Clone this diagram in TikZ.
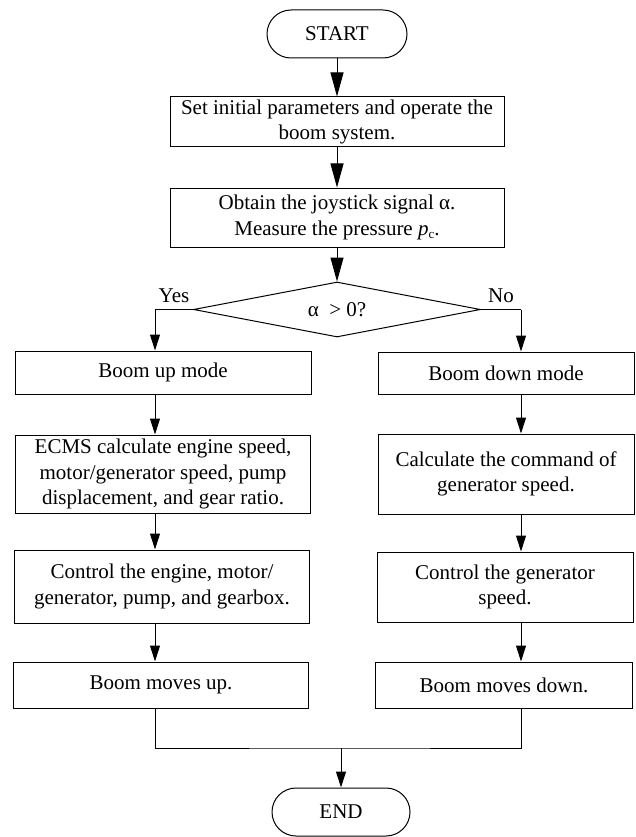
\documentclass[tikz,border=0pt]{standalone}
\usepackage{fontspec}
\setmainfont{Liberation Serif}
\usetikzlibrary{shapes.geometric,arrows.meta}
\tikzset{
  txt/.style={font=\fontsize{21}{25.5}\selectfont},
  procbox/.style={draw, txt, line width=1pt, align=center, inner sep=2pt},
  termbox/.style={draw, txt, line width=1pt, rounded corners=24pt,
    minimum width=140pt, minimum height=48pt},
  decbox/.style={draw, txt, diamond, line width=1pt, aspect=5, inner sep=0pt,
    minimum width=287pt, minimum height=55pt},
  conn/.style={line width=1pt},
  arr/.style={conn, -{Triangle[length=16pt,width=10pt]}},
  bigarr/.style={conn, -{Triangle[length=24pt,width=13pt]}},
  lbl/.style={txt, inner sep=1pt, above=5pt}
}

\begin{document}
\begin{tikzpicture}[x=1pt,y=-1pt]
    \useasboundingbox (0,0) rectangle (636,837);
    % main column
    \node[termbox] (start) at (337,34) {START};
    \node[procbox, minimum width=334pt, minimum height=50pt] (init) at (337,122)
        {Set initial parameters and operate the\\boom system.};
    \node[procbox, minimum width=334pt, minimum height=59pt] (sig) at (337,217.5)
        {Obtain the joystick signal α.\\Measure the pressure \textit{p}\raisebox{-0.35ex}{\fontsize{13}{13}\selectfont c}.};
    \node[decbox] (dec) at (337,309.5) {α\ \ > 0?};
    \coordinate (yturn) at (155,309.5);
    \coordinate (nturn) at (521,309.5);
    % boom up branch
    \node[procbox, minimum width=296pt, minimum height=43pt] (upmode) at (163,372.5) {Boom up mode};
    \node[procbox, minimum width=295pt, minimum height=78pt] (ecms) at (163,474)
        {ECMS calculate engine speed,\\motor/generator speed, pump\\displacement, and gear ratio.};
    \node[procbox, minimum width=295pt, minimum height=73pt] (ctrlup) at (162,586.5)
        {Control the engine, motor/\\generator, pump, and gearbox.};
    \node[procbox, minimum width=295pt, minimum height=46pt] (upmove) at (161,685) {Boom moves up.};
    % boom down branch
    \node[procbox, minimum width=256pt, minimum height=42pt] (dnmode) at (506,373) {Boom down mode};
    \node[procbox, minimum width=256pt, minimum height=80pt] (gencmd) at (506,474)
        {Calculate the command of\\generator speed.};
    \node[procbox, minimum width=256pt, minimum height=70pt] (ctrldn) at (505,587)
        {Control the generator\\speed.};
    \node[procbox, minimum width=257pt, minimum height=46pt] (dnmove) at (504,685) {Boom moves down.};
    \node[termbox, minimum width=138pt] (stop) at (341,812) {END};
    \coordinate (merge) at (341,748);
    % connectors
    \draw[bigarr] (start) -- (init);
    \draw[bigarr] (init) -- (sig);
    \draw[bigarr] (sig) -- (dec);
    \draw[conn] (dec.west) -- node[lbl] {Yes} (yturn);
    \draw[conn] (dec.east) -- node[lbl] {No} (nturn);
    \draw[arr] (yturn) -- (upmode.north -| yturn);
    \draw[arr] (nturn) -- (dnmode.north -| nturn);
    \foreach \a/\b in {upmode/ecms, ecms/ctrlup, ctrlup/upmove}
        \draw[arr] (\a.south -| yturn) -- (\b.north -| yturn);
    \foreach \a/\b in {dnmode/gencmd, gencmd/ctrldn, ctrldn/dnmove}
        \draw[arr] (\a.south -| nturn) -- (\b.north -| nturn);
    \draw[conn] (upmove.south -| yturn) |- (merge) -| (dnmove.south -| nturn);
    \draw[arr] (merge) -- (stop);
\end{tikzpicture}
\end{document}
